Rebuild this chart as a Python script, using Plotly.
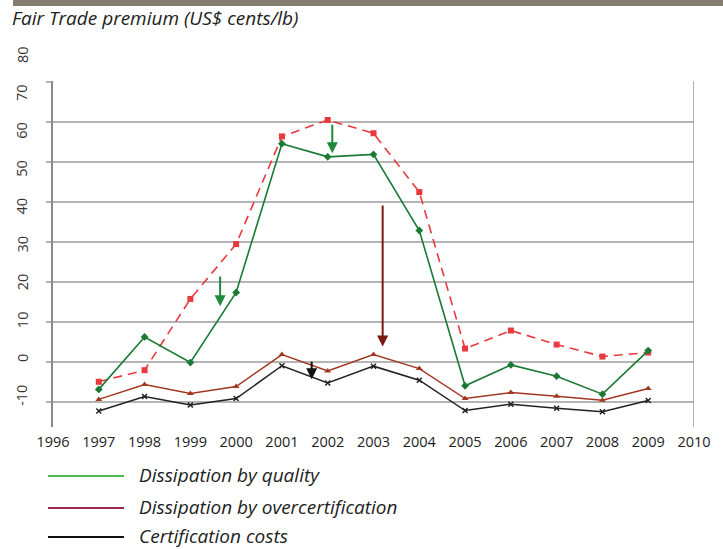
import plotly.graph_objects as go

years = [1997, 1998, 1999, 2000, 2001, 2002, 2003, 2004, 2005, 2006, 2007, 2008, 2009]
premium_total = [-5.0, -2.1, 15.7, 29.4, 56.3, 60.4, 57.1, 42.4, 3.3, 7.8, 4.3, 1.3, 2.3]
dissipation_quality = [-6.9, 6.2, -0.2, 17.3, 54.5, 51.2, 51.8, 32.8, -6.0, -0.8, -3.6, -8.1, 2.8]
dissipation_overcert = [-9.4, -5.7, -7.9, -6.2, 1.8, -2.3, 1.8, -1.7, -9.2, -7.7, -8.6, -9.6, -6.7]
certification_costs = [-12.3, -8.7, -10.8, -9.2, -1.0, -5.3, -1.1, -4.6, -12.2, -10.6, -11.6, -12.5, -9.7]

x_ticks = list(range(1996, 2011))
y_ticks = [-10, 0, 10, 20, 30, 40, 50, 60, 70]
y_tick_labels = [-10, 0, 10, 20, 30, 40, 50, 60, 70, 80]

legend_labels = ["Dissipation by quality", "Dissipation by overcertification", "Certification costs"]
legend_colors = ["#4dbd4d", "#9e2a4b", "#111111"]

# arrows: (x, y_start, y_end, color)
arrow_x = [1999.65, 2002.1, 2001.65, 2003.2]
arrow_y0 = [21.7, 59.6, 0.4, 39.4]
arrow_y1 = [13.9, 52.1, -4.4, 3.8]
arrow_colors = ["#1e8a3a", "#1e8a3a", "#111111", "#7a1a10"]

FONT = "Open Sans"

fig = go.Figure()
fig.add_trace(go.Scatter(x=years, y=premium_total, mode="lines+markers",
                         line=dict(color="#e8393f", width=1.6, dash="9px,6px"),
                         marker=dict(symbol="square", size=6, color="#e8393f"),
                         showlegend=False))
fig.add_trace(go.Scatter(x=years, y=dissipation_overcert, mode="lines+markers",
                         line=dict(color="#a2371f", width=1.5),
                         marker=dict(symbol="triangle-up", size=6, color="#a2371f"),
                         showlegend=False))
fig.add_trace(go.Scatter(x=years, y=certification_costs, mode="lines+markers",
                         line=dict(color="#222222", width=1.5),
                         marker=dict(symbol="x-thin", size=5, color="#222222",
                                     line=dict(width=1.5, color="#222222")),
                         showlegend=False))
fig.add_trace(go.Scatter(x=years, y=dissipation_quality, mode="lines+markers",
                         line=dict(color="#1a7a34", width=1.6),
                         marker=dict(symbol="diamond", size=6, color="#1a7a34"),
                         showlegend=False))

W, H = 723, 549
L, R, T, B = 53, 694, 81, 427
def px(x):
    return (x - L) / (R - L)
def py(y):
    return (B - y) / (B - T)

annotations = []
for ax_, y0, y1, c in zip(arrow_x, arrow_y0, arrow_y1, arrow_colors):
    annotations.append(dict(x=ax_, y=y1, ax=ax_, ay=y0, xref="x", yref="y", axref="x", ayref="y",
                            showarrow=True, arrowhead=2, arrowsize=1.1, arrowwidth=2,
                            arrowcolor=c, text=""))

annotations.append(dict(x=px(10), y=py(18), xref="paper", yref="paper", xanchor="left", yanchor="middle",
                        text="<i>Fair Trade premium (US$ cents/lb)</i>", showarrow=False,
                        font=dict(size=19, color="#222222", family=FONT)))

# rotated y-axis labels (set slightly apart from the gridlines, as in the original)
for v in y_tick_labels:
    annotations.append(dict(x=px(22), y=py(358 - 3.786 * v), xref="paper", yref="paper",
                            xanchor="center", yanchor="middle", text=str(v), textangle=-90,
                            showarrow=False, font=dict(size=14.5, color="#333333", family=FONT)))

shapes = [dict(type="rect", xref="paper", yref="paper", x0=px(13), x1=px(723), y0=py(6), y1=py(0),
               fillcolor="#877c72", line=dict(width=0), layer="above"),
          dict(type="line", xref="x", yref="paper", x0=2010, x1=2010, y0=0, y1=1,
               line=dict(color="#9a9a9a", width=1.5))]
legend_y = [475, 507, 536]
for lab, col, yy in zip(legend_labels, legend_colors, legend_y):
    shapes.append(dict(type="line", xref="paper", yref="paper", x0=px(48), x1=px(124), y0=py(yy + 1), y1=py(yy + 1),
                       line=dict(color=col, width=2)))
    annotations.append(dict(x=px(137), y=py(yy), xref="paper", yref="paper", xanchor="left", yanchor="middle",
                            text="<i>" + lab + "</i>", showarrow=False,
                            font=dict(size=19, color="#222222", family=FONT)))

fig.update_layout(
    width=W, height=H,
    margin=dict(l=L, r=W - R, t=T, b=H - B),
    paper_bgcolor="white", plot_bgcolor="white",
    font=dict(family=FONT, color="#333333", size=14),
    annotations=annotations, shapes=shapes,
)

fig.update_xaxes(range=[1996, 2010], tickvals=x_ticks, ticktext=[str(t) for t in x_ticks],
                 showgrid=False, zeroline=False, showline=False, ticks="",
                 ticklabelstandoff=4,
                 tickfont=dict(size=14.5, color="#222222", family=FONT), fixedrange=True)
fig.update_yaxes(range=[-16.3, 70.15], tickvals=y_ticks, showticklabels=False,
                 showgrid=True, gridcolor="#b5b5b5", gridwidth=2, zeroline=False,
                 showline=True, linecolor="#8a8a8a", linewidth=2.2,
                 ticks="outside", ticklen=5, tickcolor="#b5b5b5", tickwidth=2,
                 fixedrange=True)

fig.write_html("out.html", post_script="document.body.style.margin='0px';",
               config={"displayModeBar": False})
